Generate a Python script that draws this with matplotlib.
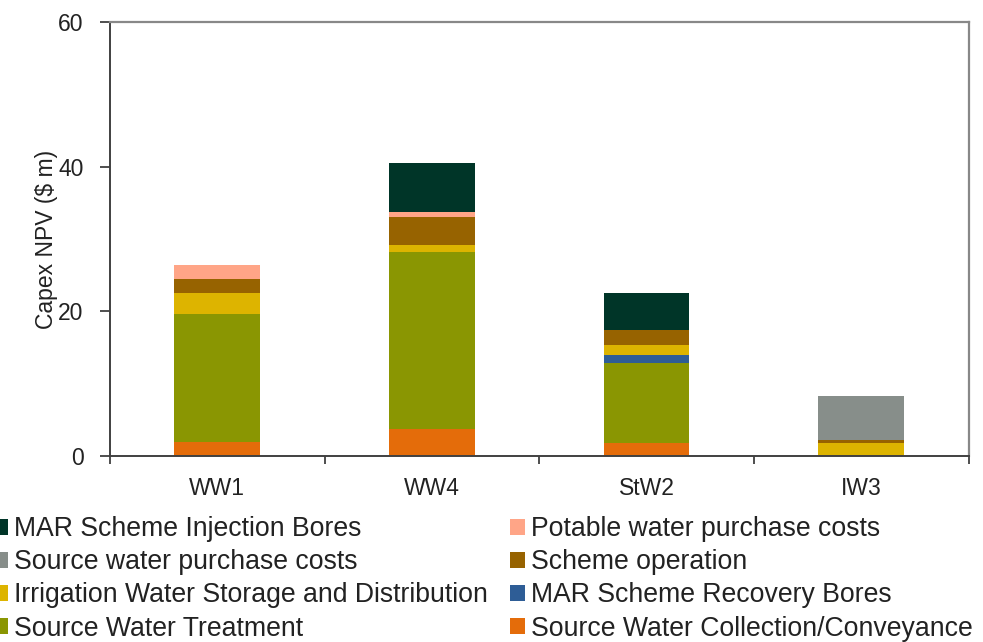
import numpy as np
import matplotlib
matplotlib.use("Agg")
import matplotlib.pyplot as plt
from matplotlib.patches import Patch

plt.rcParams['font.family'] = ['Liberation Sans', 'DejaVu Sans']

# schemes along the x axis
schemes = ["WW1", "WW4", "StW2", "IW3"]

# cost components, stacked bottom -> top ($ m)
collection = [2.0, 3.8, 1.8, 0.2]
treatment = [17.7, 24.4, 11.0, 0.0]
recovery_bores = [0.0, 0.0, 1.2, 0.0]
irrigation = [2.9, 1.0, 1.4, 1.6]
scheme_operation = [1.9, 3.8, 2.0, 0.4]
source_purchase = [0.0, 0.0, 0.0, 6.1]
potable_purchase = [1.9, 0.7, 0.0, 0.0]
injection_bores = [0.0, 6.8, 5.1, 0.0]

series = [
    ("Source Water Collection/Conveyance", collection, "#E46C0A"),
    ("Source Water Treatment", treatment, "#8A9602"),
    ("MAR Scheme Recovery Bores", recovery_bores, "#2E5D96"),
    ("Irrigation Water Storage and Distribution", irrigation, "#DDB400"),
    ("Scheme operation", scheme_operation, "#976300"),
    ("Source water purchase costs", source_purchase, "#878E8A"),
    ("Potable water purchase costs", potable_purchase, "#FFA587"),
    ("MAR Scheme Injection Bores", injection_bores, "#003528"),
]

fig = plt.figure(figsize=(9.83, 6.42), dpi=100)
ax = fig.add_axes([110 / 983, 1 - 456 / 642, 858.5 / 983, 434 / 642])

x = np.arange(len(schemes))
bottom = np.zeros(len(schemes))
handles = {}
for name, vals, col in series:
    vals = np.array(vals)
    ax.bar(x, vals, width=0.4, bottom=bottom, color=col, linewidth=0)
    bottom += vals
    handles[name] = Patch(facecolor=col, edgecolor="none")

ax.set_xlim(-0.5, len(schemes) - 0.5)
ax.set_ylim(0, 60)
ax.set_yticks([0, 20, 40, 60])

# category labels at centres, tick marks at boundaries
ax.set_xticks(x)
ax.set_xticklabels(schemes)
ax.set_xticks(np.arange(-0.5, len(schemes)), minor=True)
ax.tick_params(axis="x", which="major", length=0, pad=15, labelsize=16.5, labelcolor="#222222")
ax.tick_params(axis="x", which="minor", length=6, width=1.3, color="#404040")
ax.tick_params(axis="y", length=7, width=1.3, color="#404040", pad=12, labelsize=16.5, labelcolor="#222222")

for side in ["left", "bottom"]:
    ax.spines[side].set_color("#404040")
    ax.spines[side].set_linewidth(1.4)
for side in ["top", "right"]:
    ax.spines[side].set_color("#888888")
    ax.spines[side].set_linewidth(1.6)

ax.set_ylabel("Capex NPV ($ m)", fontsize=16.5, color="#222222")
ax.yaxis.set_label_coords(-0.061, 0.5)

# legend: two columns, Excel style (reverse stack order, row-major)
col1 = ["MAR Scheme Injection Bores", "Source water purchase costs",
        "Irrigation Water Storage and Distribution", "Source Water Treatment"]
col2 = ["Potable water purchase costs", "Scheme operation",
        "MAR Scheme Recovery Bores", "Source Water Collection/Conveyance"]

leg_kw = dict(loc="upper left", frameon=False, fontsize=19.2, handlelength=0.55,
              handleheight=0.55, handletextpad=0.22, labelspacing=0.27,
              borderpad=0, borderaxespad=0, labelcolor="#222222")
fig.legend([handles[n] for n in col1], col1,
           bbox_to_anchor=(-7 / 983, 1 - 516 / 642), **leg_kw)
fig.legend([handles[n] for n in col2], col2,
           bbox_to_anchor=(510 / 983, 1 - 516 / 642), **leg_kw)

fig.savefig("out.png", dpi=100)
